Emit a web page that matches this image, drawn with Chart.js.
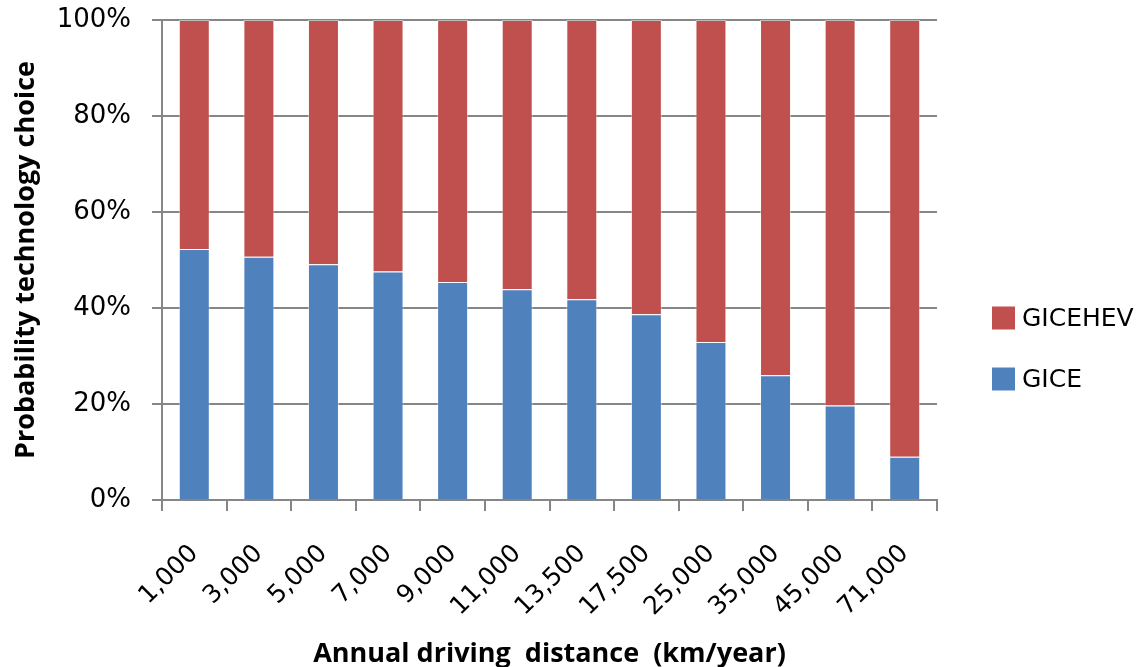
<!DOCTYPE html>
<html>
<head>
<meta charset="utf-8">
<script src="https://cdn.jsdelivr.net/npm/chart.js@4/dist/chart.umd.min.js"></script>
<style>
  html, body { margin: 0; padding: 0; background: #fff; }
  #wrap { width: 1137px; height: 667px; }
</style>
</head>
<body>
<div id="wrap"><canvas id="main" width="1137" height="667"></canvas></div>
<script>
const distances = ['1,000', '3,000', '5,000', '7,000', '9,000', '11,000', '13,500', '17,500', '25,000', '35,000', '45,000', '71,000'];
const gice = [52.3, 50.7, 49.1, 47.6, 45.4, 43.9, 41.8, 38.7, 32.9, 26.0, 19.7, 9.0];
const gicehev = gice.map(v => +(100 - v).toFixed(1));

const gridGray = '#868686';
const tickFont = '"DejaVu Sans", sans-serif';
const titleFont = '"Open Sans", sans-serif';

// legend drawn at the right, GICEHEV on top like the original
const sideLegend = {
  id: 'sideLegend',
  afterDraw(chart) {
    const ctx = chart.ctx;
    const area = chart.chartArea;
    const items = chart.data.datasets.slice().reverse();
    ctx.save();
    ctx.font = '25px ' + tickFont;
    ctx.textBaseline = 'middle';
    items.forEach((ds, i) => {
      const cy = area.top + 298 + i * 61;
      const bx = area.right + 55;
      ctx.fillStyle = ds.backgroundColor;
      ctx.fillRect(bx, cy - 11.5, 23, 23);
      ctx.fillStyle = '#000';
      ctx.fillText(ds.label, bx + 30, cy + 1);
    });
    ctx.restore();
  }
};

const chart = new Chart(document.getElementById('main'), {
  type: 'bar',
  data: {
    labels: distances,
    datasets: [
      { label: 'GICE', data: gice, backgroundColor: '#4F81BD', borderColor: 'rgba(255,255,255,0.45)', borderWidth: 1, barPercentage: 0.48, categoryPercentage: 1 },
      { label: 'GICEHEV', data: gicehev, backgroundColor: '#C0504D', borderColor: 'rgba(255,255,255,0.45)', borderWidth: 1, barPercentage: 0.48, categoryPercentage: 1 }
    ]
  },
  plugins: [sideLegend],
  options: {
    responsive: false,
    animation: false,
    layout: { padding: { top: 20, right: 200, bottom: -4, left: 6 } },
    plugins: {
      tooltip: { enabled: false },
      legend: { display: false }
    },
    scales: {
      x: {
        stacked: true,
        offset: true,
        grid: { display: true, drawOnChartArea: false, offset: true, color: gridGray, lineWidth: 2, tickLength: 11 },
        border: { color: gridGray, width: 2 },
        ticks: { color: '#000', font: { family: tickFont, size: 25 }, maxRotation: 45, minRotation: 45, padding: 28 },
        title: { display: true, text: 'Annual driving  distance  (km/year)', color: '#000', font: { family: titleFont, size: 27, weight: 'bold' }, padding: { top: 0, bottom: 0 } },
        afterFit: s => { s.height = 171; }
      },
      y: {
        stacked: true,
        min: 0, max: 100,
        grid: { color: gridGray, lineWidth: 2, tickLength: 10 },
        border: { color: gridGray, width: 2 },
        ticks: { stepSize: 20, color: '#000', padding: 21, font: { family: tickFont, size: 26 }, callback: v => v + '%' },
        title: { display: true, text: 'Probability technology choice', color: '#000', font: { family: titleFont, size: 27, weight: 'bold' }, padding: { bottom: 8 } },
        afterFit: s => { s.width = 156; s.paddingTop = 0; s.paddingBottom = 0; }
      }
    }
  }
});
</script>
</body>
</html>
